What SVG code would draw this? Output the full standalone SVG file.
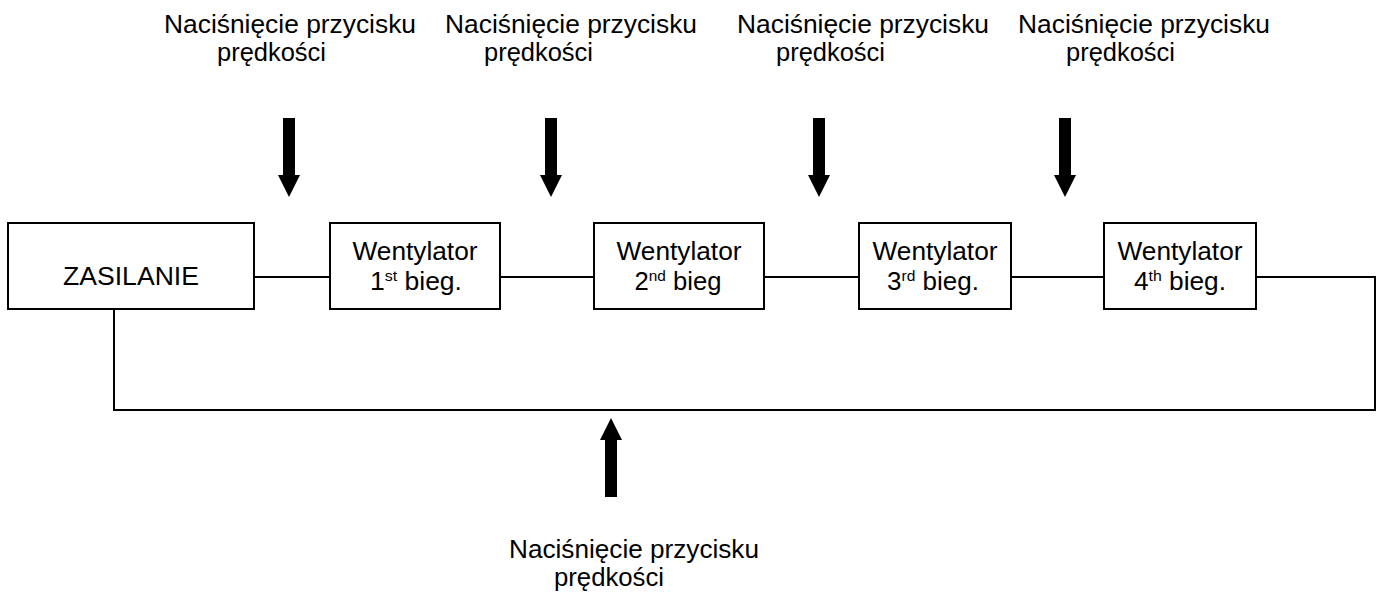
<svg xmlns="http://www.w3.org/2000/svg" width="1385" height="597" viewBox="0 0 1385 597">
  <style>
    .box { fill: #ffffff; stroke: #000000; stroke-width: 2; }
    .wire { fill: none; stroke: #000000; stroke-width: 2; }
    .arrow { fill: #000000; stroke: none; }
    text { font-family: "Liberation Sans", Arial, sans-serif; font-size: 25px; fill: #000000; }
    .c { text-anchor: middle; }
    .sup { font-size: 15px; }
  </style>
  <defs>
    <!-- block arrow pointing down, origin at shaft top centre -->
    <path id="arrDown" d="M -6 0 H 6 V 57 H 11 L 0 79 L -11 57 H -6 Z"/>
  </defs>

  <!-- connectors -->
  <g id="connectors">
    <line class="wire" x1="254" y1="277" x2="330" y2="277"/>
    <line class="wire" x1="500" y1="277" x2="594" y2="277"/>
    <line class="wire" x1="764" y1="277" x2="859" y2="277"/>
    <line class="wire" x1="1011" y1="277" x2="1104" y2="277"/>
    <polyline class="wire" points="1256,277 1375,277 1375,410 114,410 114,309"/>
  </g>

  <!-- power supply -->
  <g id="zasilanie">
    <rect class="box" x="8" y="223" width="246" height="86"/>
    <text class="c" x="131" y="285" textLength="136" lengthAdjust="spacingAndGlyphs">ZASILANIE</text>
  </g>

  <!-- fan speed stages -->
  <g id="bieg1">
    <rect class="box" x="330" y="223" width="170" height="86"/>
    <text class="c" x="415" y="260" textLength="125" lengthAdjust="spacingAndGlyphs">Wentylator</text>
    <text class="c" x="416" y="290" textLength="92" lengthAdjust="spacingAndGlyphs">1<tspan class="sup" dy="-9">st</tspan><tspan dy="9"> bieg.</tspan></text>
  </g>
  <g id="bieg2">
    <rect class="box" x="594" y="223" width="170" height="86"/>
    <text class="c" x="679" y="260" textLength="125" lengthAdjust="spacingAndGlyphs">Wentylator</text>
    <text class="c" x="678" y="290" textLength="87" lengthAdjust="spacingAndGlyphs">2<tspan class="sup" dy="-9">nd</tspan><tspan dy="9"> bieg</tspan></text>
  </g>
  <g id="bieg3">
    <rect class="box" x="859" y="223" width="152" height="86"/>
    <text class="c" x="935" y="260" textLength="125" lengthAdjust="spacingAndGlyphs">Wentylator</text>
    <text class="c" x="933" y="290" textLength="92" lengthAdjust="spacingAndGlyphs">3<tspan class="sup" dy="-9">rd</tspan><tspan dy="9"> bieg.</tspan></text>
  </g>
  <g id="bieg4">
    <rect class="box" x="1104" y="223" width="152" height="86"/>
    <text class="c" x="1180" y="260" textLength="125" lengthAdjust="spacingAndGlyphs">Wentylator</text>
    <text class="c" x="1180" y="290" textLength="92" lengthAdjust="spacingAndGlyphs">4<tspan class="sup" dy="-9">th</tspan><tspan dy="9"> bieg.</tspan></text>
  </g>

  <!-- button presses -->
  <g id="press1">
    <use href="#arrDown" class="arrow" x="289" y="118"/>
    <text x="164" y="33" textLength="252" lengthAdjust="spacingAndGlyphs">Naciśnięcie przycisku</text>
    <text x="217" y="61" textLength="109" lengthAdjust="spacingAndGlyphs">prędkości</text>
  </g>
  <g id="press2">
    <use href="#arrDown" class="arrow" x="551" y="118"/>
    <text x="445" y="33" textLength="252" lengthAdjust="spacingAndGlyphs">Naciśnięcie przycisku</text>
    <text x="484" y="61" textLength="109" lengthAdjust="spacingAndGlyphs">prędkości</text>
  </g>
  <g id="press3">
    <use href="#arrDown" class="arrow" x="819" y="118"/>
    <text x="737" y="33" textLength="252" lengthAdjust="spacingAndGlyphs">Naciśnięcie przycisku</text>
    <text x="776" y="61" textLength="109" lengthAdjust="spacingAndGlyphs">prędkości</text>
  </g>
  <g id="press4">
    <use href="#arrDown" class="arrow" x="1065" y="118"/>
    <text x="1018" y="33" textLength="252" lengthAdjust="spacingAndGlyphs">Naciśnięcie przycisku</text>
    <text x="1066" y="61" textLength="109" lengthAdjust="spacingAndGlyphs">prędkości</text>
  </g>
  <g id="press5">
    <use href="#arrDown" class="arrow" transform="translate(611 497) rotate(180)"/>
    <text x="509" y="558" textLength="250" lengthAdjust="spacingAndGlyphs">Naciśnięcie przycisku</text>
    <text x="554" y="586" textLength="110" lengthAdjust="spacingAndGlyphs">prędkości</text>
  </g>
</svg>
